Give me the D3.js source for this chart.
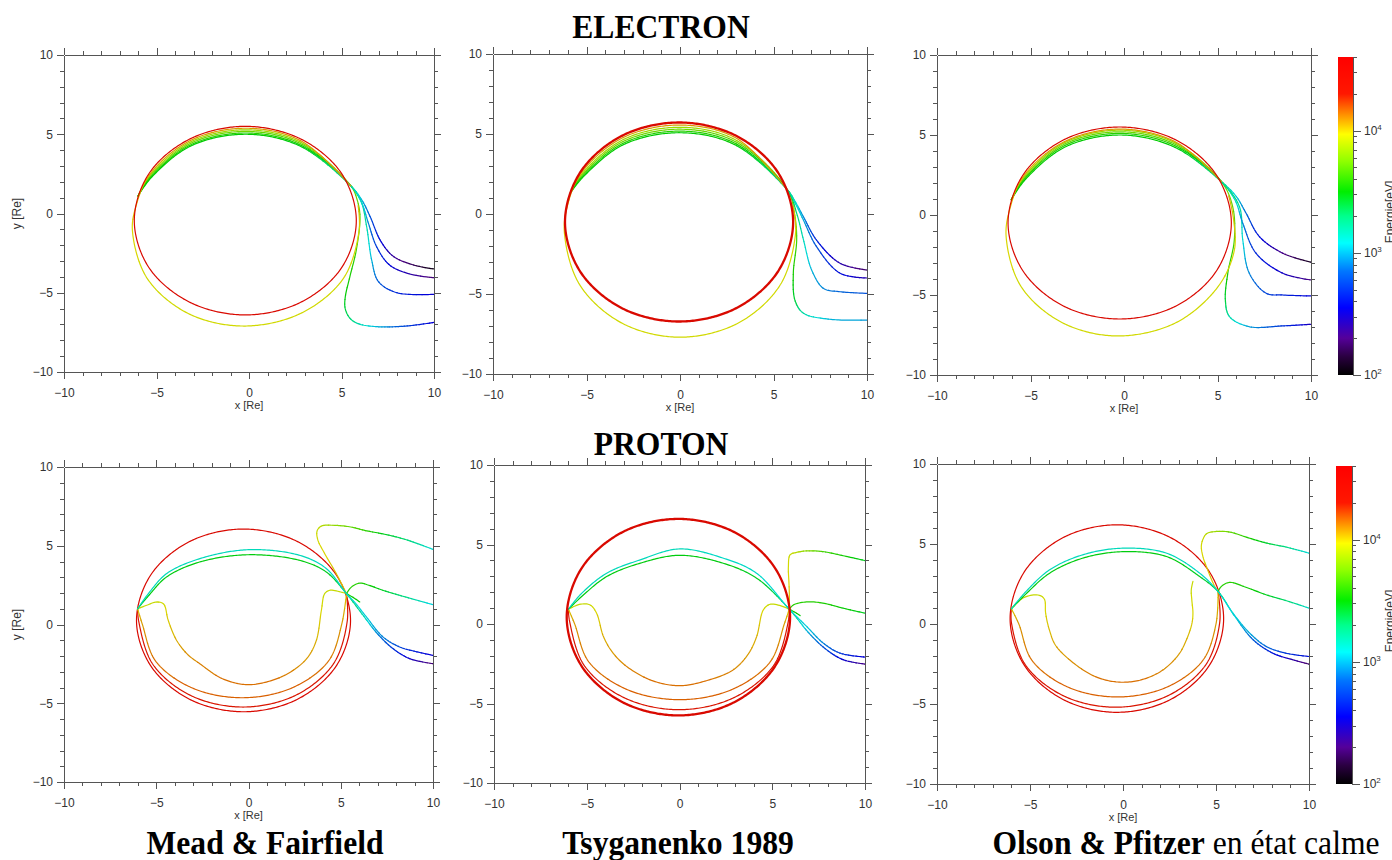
<!DOCTYPE html>
<html>
<head>
<meta charset="utf-8">
<script src="https://cdn.jsdelivr.net/npm/d3@7"></script>
<style>
  body { margin: 0; background: #fff; }
  svg { display: block; }
</style>
</head>
<body>
<div id="chart"></div>
<script>
// Drift paths: each point is [x (Re), y (Re), energy (eV)]

// ---- ELECTRON, Mead & Fairfield
const mfE_ring = [[5.8,-0.45,30000],[5.0,2.53,30000],[2.8,4.7,30000],[-0.2,5.5,30000],[-3.2,4.7,30000],[-5.4,2.53,30000],[-6.2,-0.45,30000],[-5.4,-3.43,30000],[-3.2,-5.6,30000],[-0.2,-6.4,30000],[2.8,-5.6,30000],[5.0,-3.43,30000]];
const mfE_yellow = [[5.5,1.75,12000],[2.78,4.6,12000],[-0.2,5.38,12000],[-3.18,4.6,12000],[-5.36,2.47,11000],[-6.1,0.5,10000],[-6.3,-1.1,9500],[-5.5,-4.1,9000],[-3.3,-6.3,9000],[-0.3,-7.1,9000],[2.8,-6.3,9000],[5.1,-4.1,9000],[5.95,-1.1,9500],[5.9,0.5,10500]];
const mfE_t1 = [[10,-3.5,110],[8.9,-3.25,160],[7.8,-2.7,230],[7.1,-1.7,360],[6.55,-0.2,600],[6.1,0.85,1000],[5.5,1.75,1600],[2.73,4.27,3000],[-0.2,5.0,3200],[-3.13,4.27,3200],[-5.27,2.28,3200],[-6.0,1.1,3200]];
const mfE_t2 = [[10,-4.05,180],[8.7,-3.82,250],[7.6,-3.25,350],[6.9,-2.1,520],[6.45,-0.6,800],[6.1,0.64,1200],[5.5,1.75,1800],[2.74,4.34,3600],[-0.2,5.08,3800],[-3.14,4.34,3800],[-5.29,2.32,3800],[-6.0,1.1,3800]];
const mfE_t3 = [[10,-5.1,330],[8.0,-5.0,450],[7.0,-4.3,650],[6.63,-2.93,1000],[6.36,-0.83,1500],[6.05,0.8,2000],[5.5,1.75,2800],[2.75,4.43,5000],[-0.2,5.18,5200],[-3.15,4.43,5200],[-5.31,2.37,5000],[-6.0,1.1,5000]];
const mfE_t4 = [[10,-6.87,330],[8.5,-7.1,550],[6.9,-7.14,1000],[5.9,-6.95,1500],[5.45,-6.6,2000],[5.2,-6.0,2500],[5.2,-5.3,3000],[5.45,-4.0,3500],[5.8,-2.3,4000],[6.0,-0.2,4500],[5.85,0.85,5000],[5.5,1.75,5500],[2.77,4.51,6500],[-0.2,5.28,6500],[-3.17,4.51,6500],[-5.34,2.42,6500],[-6.0,1.1,6500]];

// ---- ELECTRON, Tsyganenko 1989
const tsE_ring = [[6.05,-0.5,30000],[5.23,2.61,30000],[3.0,4.89,30000],[-0.05,5.72,30000],[-3.1,4.89,30000],[-5.33,2.61,30000],[-6.15,-0.5,30000],[-5.33,-3.61,30000],[-3.1,-5.89,30000],[-0.05,-6.72,30000],[3.0,-5.89,30000],[5.23,-3.61,30000]];
const tsE_yellow = [[5.75,1.5,12000],[2.99,4.75,12000],[-0.05,5.56,12000],[-3.09,4.75,12000],[-5.3,2.53,11000],[-6.0,0.6,10000],[-6.18,-1.2,9500],[-5.35,-4.45,9000],[-3.09,-6.83,9000],[0,-7.7,9000],[3.09,-6.83,9000],[5.35,-4.45,9000],[6.18,-1.2,9500],[6.05,0.5,10500]];
const tsE_t1 = [[10,-3.5,170],[8.56,-3.08,260],[7.3,-1.63,450],[6.6,-0.17,800],[6.15,0.8,1300],[5.75,1.5,1800],[2.93,4.33,3100],[-0.05,5.08,3200],[-3.03,4.33,3200],[-5.2,2.29,3200],[-5.87,1.29,3200]];
const tsE_t2 = [[10,-4.0,260],[8.56,-3.7,380],[7.3,-2.04,600],[6.6,-0.38,950],[6.15,0.7,1400],[5.75,1.5,2000],[2.94,4.42,3700],[-0.05,5.18,3800],[-3.04,4.42,3800],[-5.23,2.34,3800],[-5.87,1.29,3800]];
const tsE_t3 = [[10,-4.96,600],[8.5,-4.85,700],[7.67,-4.65,800],[7.04,-3.5,1000],[6.6,-1.6,1400],[6.24,0.04,2000],[5.75,1.5,2800],[2.96,4.52,5100],[-0.05,5.3,5200],[-3.06,4.52,5200],[-5.25,2.4,5200],[-5.87,1.29,5200]];
const tsE_t4 = [[10,-6.63,900],[8.02,-6.58,1000],[6.6,-6.2,1500],[6.15,-5.4,2500],[6.06,-3.7,3500],[6.24,-1.6,4200],[6.12,0.04,5000],[5.75,1.5,5500],[2.97,4.63,6500],[-0.05,5.42,6500],[-3.07,4.63,6500],[-5.28,2.46,6500],[-5.87,1.29,6500]];

// ---- ELECTRON, Olson & Pfitzer
const opE_ring = [[5.74,-0.5,30000],[4.94,2.5,30000],[2.76,4.7,30000],[-0.23,5.5,30000],[-3.22,4.7,30000],[-5.4,2.5,30000],[-6.2,-0.5,30000],[-5.4,-3.5,30000],[-3.22,-5.7,30000],[-0.23,-6.5,30000],[2.76,-5.7,30000],[4.94,-3.5,30000]];
const opE_yellow = [[5.2,2.1,12000],[2.73,4.58,12000],[-0.23,5.37,12000],[-3.19,4.58,12000],[-5.36,2.44,11000],[-6.1,0.4,10000],[-6.3,-1.4,9500],[-5.5,-4.48,9000],[-3.3,-6.73,9000],[-0.35,-7.56,9000],[2.78,-6.73,9000],[5.03,-4.48,9000],[5.9,-2.2,9500],[5.85,-0.2,10000],[5.6,1.2,11000]];
const opE_t1 = [[10,-2.95,120],[8.49,-2.39,200],[7.24,-1.35,380],[6.53,0.11,700],[6.0,1.16,1100],[5.2,2.1,1800],[2.67,4.26,3100],[-0.23,5.0,3200],[-3.13,4.26,3200],[-5.25,2.25,3200],[-6.03,0.95,3200]];
const opE_t2 = [[10,-4.06,200],[8.49,-3.64,300],[7.06,-2.39,450],[6.35,-0.51,800],[5.95,0.9,1300],[5.2,2.1,2000],[2.69,4.35,3700],[-0.23,5.1,3800],[-3.15,4.35,3800],[-5.28,2.3,3800],[-6.03,0.95,3800]];
const opE_t3 = [[10,-5.06,350],[8.5,-5.0,450],[7.6,-4.89,550],[6.7,-3.64,800],[6.35,-1.55,1200],[6.17,0.53,1700],[5.2,2.1,2800],[2.7,4.44,5100],[-0.23,5.2,5200],[-3.16,4.44,5200],[-5.3,2.35,5200],[-6.03,0.95,5200]];
const opE_t4 = [[10,-6.83,280],[8.49,-6.93,500],[6.7,-6.98,900],[5.64,-6.35,1500],[5.42,-5.31,2500],[5.55,-3.64,3500],[5.9,-1.55,4200],[5.81,0.53,5000],[5.2,2.1,5500],[2.72,4.52,6500],[-0.23,5.3,6500],[-3.18,4.52,6500],[-5.33,2.4,6500],[-6.03,0.95,6500]];

// ---- PROTON, Mead & Fairfield
const mfP_ring = [[5.53,0.26,30000],[4.75,-2.64,30000],[2.63,-4.76,30000],[-0.27,-5.54,30000],[-3.17,-4.76,30000],[-5.29,-2.64,30000],[-6.07,0.26,30000],[-5.29,3.16,30000],[-3.17,5.28,30000],[-0.27,6.06,30000],[2.63,5.28,30000],[4.75,3.16,30000]];
const mfP_red = [[-6.01,1.0,20000],[-5.95,0.2,20000],[-5.19,-2.52,20000],[-3.13,-4.51,20000],[-0.3,-5.24,20000],[2.53,-4.51,20000],[4.59,-2.52,20000],[5.35,0.2,20000],[5.31,1.96,20000]];
const mfP_orange = [[-6.01,1.0,10000],[-5.75,0.0,12000],[-5.03,-2.33,14000],[-3.05,-4.03,15000],[-0.35,-4.65,15000],[2.35,-4.03,15000],[4.33,-2.33,14000],[5.05,0.0,12000],[5.31,1.96,10000]];
const mfP_inner = [[-6.01,1.0,8000],[-5.52,1.22,8500],[-4.98,1.43,8500],[-4.6,1.3,9000],[-4.35,0.26,10000],[-3.9,-1.0,11000],[-3.3,-1.9,12500],[-2.64,-2.49,13000],[-1.4,-3.45,14000],[-0.02,-3.82,14500],[1.4,-3.5,14000],[2.42,-2.91,13000],[3.2,-2.1,12000],[3.68,-1.0,11000],[3.95,0.9,9500],[4.13,1.96,8500],[4.4,2.17,8500],[4.76,2.13,8500],[5.31,1.96,8500]];
const mfP_hook1 = [[10,4.77,1200],[8.5,5.4,2000],[7.3,5.75,2800],[6.39,5.95,3800],[5.5,6.2,5000],[4.58,6.3,6500],[3.95,6.25,7500],[3.72,5.95,8500],[3.75,5.4,9000],[4.13,4.5,9500],[4.76,3.23,10000],[5.31,1.96,10500]];
const mfP_hook2 = [[10,1.26,1100],[8.5,1.75,1800],[7.29,2.17,2700],[6.5,2.5,3300],[6.03,2.63,3600],[5.58,2.38,3800],[5.31,1.96,3800]];
const mfP_stub = [[5.31,1.96,3500],[5.7,1.7,3300],[6.03,1.43,3200]];
const mfP_tail1 = [[10,-1.96,330],[9.0,-1.7,420],[8.2,-1.43,550],[7.29,-0.79,800],[6.39,0.48,1100],[5.8,1.35,1200],[5.31,1.96,1300],[4.22,3.55,1350],[2.78,4.39,1400],[0,4.75,1400],[-2.64,4.18,1400],[-4.44,3.23,1400],[-5.4,2.0,1400],[-6.01,1.0,1400]];
const mfP_tail2 = [[10,-2.49,180],[8.74,-2.17,300],[7.83,-1.53,500],[7.0,-0.6,800],[6.2,0.6,1500],[5.31,1.96,2300],[4.22,3.33,2800],[2.78,4.07,3000],[0,4.43,3000],[-2.64,3.97,3000],[-4.44,3.02,3000],[-5.4,1.85,3000],[-6.01,1.0,3000]];

// ---- PROTON, Tsyganenko 1989
const tsP_ring = [[5.96,0.43,30000],[5.15,3.52,30000],[2.95,5.78,30000],[-0.06,6.61,30000],[-3.07,5.78,30000],[-5.27,3.52,30000],[-6.08,0.43,30000],[-5.27,-2.66,30000],[-3.07,-4.92,30000],[-0.06,-5.75,30000],[2.95,-4.92,30000],[5.15,-2.66,30000]];
const tsP_red = [[-5.99,0.93,20000],[-5.93,0.2,20000],[-5.14,-2.6,20000],[-2.98,-4.64,20000],[-0.03,-5.39,20000],[2.92,-4.64,20000],[5.08,-2.6,20000],[5.87,0.2,20000],[5.92,0.93,20000]];
const tsP_orange = [[-5.99,0.93,10000],[-5.65,0.0,12000],[-4.89,-2.38,14000],[-2.83,-4.12,15000],[0,-4.76,15000],[2.83,-4.12,15000],[4.89,-2.38,14000],[5.65,0.0,12000],[5.92,0.93,10000]];
const tsP_inner = [[-5.99,0.93,8000],[-5.36,1.24,8500],[-4.82,1.2,8500],[-4.47,0.68,9500],[-4.1,-0.79,11000],[-3.6,-1.8,12000],[-2.85,-2.67,13000],[-1.5,-3.55,14000],[0,-3.88,14500],[1.5,-3.55,14000],[2.9,-2.88,13000],[3.7,-1.9,12000],[4.16,-0.79,11000],[4.52,0.89,9500],[4.88,1.24,8500],[5.42,1.16,8500],[5.92,0.93,8500]];
const tsP_hook1 = [[10,3.99,2800],[8.8,4.3,3400],[7.75,4.55,4200],[6.86,4.6,6000],[6.3,4.5,7500],[5.96,4.35,8500],[5.87,3.61,9000],[5.9,2.6,9500],[5.92,1.94,10000],[5.92,0.93,10000]];
const tsP_hook2 = [[10,0.68,2800],[8.8,1.0,3200],[7.75,1.31,3600],[6.86,1.39,3800],[6.14,1.2,3800],[5.92,0.93,3800]];
const tsP_stub = [[5.92,0.93,3500],[6.2,0.75,3300],[6.5,0.53,3200]];
const tsP_tail1 = [[10,-2.08,330],[8.65,-1.83,500],[7.75,-1.2,800],[6.86,-0.16,1100],[5.92,0.93,1250],[4.16,3.19,1300],[2.36,4.14,1350],[0,4.72,1400],[-2.13,4.03,1400],[-3.93,3.19,1400],[-5.3,1.9,1400],[-5.99,0.93,1400]];
const tsP_tail2 = [[10,-2.52,200],[8.83,-2.25,320],[7.93,-1.62,550],[7.0,-0.6,900],[5.92,0.93,2000],[4.16,2.88,2800],[2.36,3.82,3000],[0,4.32,3000],[-2.13,3.82,3000],[-3.93,2.98,3000],[-5.3,1.7,3000],[-5.99,0.93,3000]];

// ---- PROTON, Olson & Pfitzer
const opP_ring = [[5.41,0.34,30000],[4.64,3.27,30000],[2.54,5.41,30000],[-0.33,6.2,30000],[-3.2,5.41,30000],[-5.3,3.27,30000],[-6.07,0.34,30000],[-5.3,-2.59,30000],[-3.2,-4.73,30000],[-0.33,-5.52,30000],[2.54,-4.73,30000],[4.64,-2.59,30000]];
const opP_red = [[-6.0,0.95,20000],[-6.0,0.1,20000],[-5.25,-2.55,20000],[-3.2,-4.49,20000],[-0.4,-5.2,20000],[2.4,-4.49,20000],[4.45,-2.55,20000],[5.2,0.1,20000],[5.11,2.03,20000]];
const opP_orange = [[-6.0,0.95,10000],[-5.6,0.0,12000],[-4.89,-2.28,14000],[-2.95,-3.95,15000],[-0.3,-4.56,15000],[2.35,-3.95,15000],[4.29,-2.28,14000],[5.0,0.0,12000],[5.11,2.03,10000]];
const opP_inner = [[-6.0,0.95,8000],[-5.38,1.62,8500],[-4.75,1.82,8500],[-4.4,1.75,8500],[-4.21,1.51,9000],[-4.16,0.68,9500],[-3.95,-0.4,10500],[-3.58,-1.41,11500],[-2.15,-2.87,13000],[-1.1,-3.45,14000],[0,-3.64,14500],[1.1,-3.45,14000],[2.15,-2.87,13000],[3.0,-1.9,12000],[3.41,-0.99,11000],[3.7,0.0,10000],[3.76,0.68,9500],[3.7,1.5,9000],[3.67,2.14,8500],[3.76,2.66,8500]];
const opP_hook1 = [[10,4.43,1200],[8.8,4.8,1800],[7.71,5.06,2600],[6.7,5.4,3600],[5.73,5.75,5000],[5.0,5.78,6500],[4.5,5.65,7500],[4.3,5.3,8500],[4.21,4.85,9000],[4.3,4.2,9500],[4.48,3.6,9800],[4.93,2.35,10000],[5.11,2.03,10000]];
const opP_hook2 = [[10,0.99,1300],[8.8,1.45,2000],[7.71,1.82,2800],[6.6,2.3,3400],[5.73,2.6,3700],[5.29,2.35,3800],[5.11,2.03,3800]];
const opP_tail1 = [[10,-2.03,380],[8.78,-1.83,500],[7.71,-1.41,700],[6.81,-0.57,950],[5.91,0.68,1150],[5.11,2.03,1300],[4.12,3.18,1350],[2.33,4.43,1400],[0,4.74,1400],[-2.15,4.33,1400],[-3.94,3.39,1400],[-5.2,2.05,1400],[-6.0,0.95,1400]];
const opP_tail2 = [[10,-2.51,170],[9.14,-2.24,250],[8.06,-1.83,400],[7.0,-0.99,650],[6.0,0.5,1200],[5.11,2.03,2300],[4.12,2.97,2800],[2.33,4.22,3000],[0,4.52,3000],[-2.15,4.12,3000],[-3.94,3.18,3000],[-5.2,1.9,3000],[-6.0,0.95,3000]];

// which paths are closed loops, which are drawn heavier
const closedPaths = new Set([mfE_ring, tsE_ring, opE_ring, mfP_ring, tsP_ring, opP_ring]);
const heavyPaths = new Set([tsE_ring, tsP_ring]);

// axis values
const majorTicks = [-10, -5, 0, 5, 10];
const minorTicks = [-9, -8, -7, -6, -4, -3, -2, -1, 1, 2, 3, 4, 6, 7, 8, 9];

// energy colour bar (eV, log)
const energyRange = [100, 40000];
const energyStops = [100, 141, 200, 355, 710, 1200, 2000, 3160, 5620, 9330, 13500, 20000, 40000];
const energyColors = ["#000000", "#2a0040", "#55009a", "#0000ff", "#0078ff", "#00ffff", "#00ff8c", "#00ee00", "#90ff00", "#ffff00", "#ff9000", "#ff1800", "#ff0000"];
const energyLabels = [100, 1000, 10000];
const energyMinor = [200, 300, 400, 500, 600, 700, 800, 900, 2000, 3000, 4000, 5000, 6000, 7000, 8000, 9000, 20000, 30000, 40000];

const rowTitles = ["ELECTRON", "PROTON"];
const modelNames = [["Mead & Fairfield", ""], ["Tsyganenko 1989", ""], ["Olson & Pfitzer", " en état calme"]];

// ---------------------------------------------------------------
const panels = [
  {box: [64, 55, 370, 317],  paths: [mfE_t4, mfE_t3, mfE_t2, mfE_t1, mfE_yellow, mfE_ring], yTitle: true,  xTitle: true},
  {box: [493, 54, 374, 320], paths: [tsE_t4, tsE_t3, tsE_t2, tsE_t1, tsE_yellow, tsE_ring], yTitle: false, xTitle: true},
  {box: [937, 55, 374, 320], paths: [opE_t4, opE_t3, opE_t2, opE_t1, opE_yellow, opE_ring], yTitle: false, xTitle: true},
  {box: [64, 467, 369, 315], paths: [mfP_ring, mfP_red, mfP_orange, mfP_inner, mfP_hook1, mfP_hook2, mfP_stub, mfP_tail2, mfP_tail1], yTitle: true,  xTitle: true},
  {box: [494, 465, 371, 318], paths: [tsP_red, tsP_orange, tsP_inner, tsP_hook1, tsP_hook2, tsP_stub, tsP_tail2, tsP_tail1, tsP_ring], yTitle: false, xTitle: false},
  {box: [937, 464, 372, 320], paths: [opP_ring, opP_red, opP_orange, opP_inner, opP_hook1, opP_hook2, opP_tail2, opP_tail1], yTitle: false, xTitle: true}
];
const colorBars = [[1338, 57, 15, 318], [1336, 466, 16, 318]];

const width = 1392, height = 860;
const axisColor = "#555";
const labelColor = "#333";

const svg = d3.select("#chart").append("svg")
  .attr("width", width)
  .attr("height", height)
  .style("font-family", "'Liberation Sans', Arial, sans-serif");

const energyColor = d3.scaleLog().domain(energyStops).range(energyColors)
  .interpolate(d3.interpolateRgb).clamp(true);

// draw a smooth path whose colour follows the energy along it
function drawPath(g, pts, closed, x, y, w) {
  const P = pts.map(d => [x(d[0]), y(d[1]), Math.log10(d[2])]);
  const curve = closed ? d3.curveCatmullRomClosed.alpha(0.5) : d3.curveCatmullRom.alpha(0.5);
  const ghost = g.append("path")
    .attr("d", d3.line().curve(curve)(P.map(p => [p[0], p[1]])))
    .attr("fill", "none");
  const node = ghost.node();
  const total = node.getTotalLength();
  const V = closed ? P.concat([P[0]]) : P;
  const cum = [0];
  for (let i = 1; i < V.length; i++) cum.push(cum[i - 1] + Math.hypot(V[i][0] - V[i - 1][0], V[i][1] - V[i - 1][1]));
  const chord = cum[cum.length - 1];
  const n = Math.max(2, Math.ceil(total / 1.5));
  const runs = [];
  let cur = null, j = 0;
  for (let k = 0; k <= n; k++) {
    const p = node.getPointAtLength(total * k / n);
    const c = chord * k / n;
    while (j < cum.length - 2 && cum[j + 1] < c) j++;
    const t = Math.max(0, Math.min(1, (c - cum[j]) / ((cum[j + 1] - cum[j]) || 1)));
    const le = V[j][2] + (V[j + 1][2] - V[j][2]) * t;
    const col = d3.color(energyColor(Math.pow(10, Math.round(le * 40) / 40))).darker(0.45).formatHex();
    if (!cur || cur.col !== col) {
      const prev = cur ? cur.pts[cur.pts.length - 1] : null;
      cur = {col, pts: prev ? [prev] : []};
      runs.push(cur);
    }
    cur.pts.push([p.x, p.y]);
  }
  ghost.remove();
  g.append("g").selectAll("path").data(runs).join("path")
    .attr("d", r => d3.line()(r.pts))
    .attr("fill", "none")
    .attr("stroke", r => r.col)
    .attr("stroke-width", w)
    .attr("stroke-linecap", "round")
    .attr("stroke-linejoin", "round");
}

function styleAxis(sel) {
  sel.attr("font-size", null).attr("font-family", null);
  sel.selectAll("path.domain, line").attr("stroke", axisColor).attr("shape-rendering", "crispEdges");
  sel.selectAll("text").attr("fill", labelColor).style("font-size", "12px");
}

function frame(g, x, y, left, top, w, h) {
  const fmt = d3.format("d");
  const sides = [
    [d3.axisBottom, x, `translate(0,${top + h})`, true, 9],
    [d3.axisTop, x, `translate(0,${top})`, false, 3],
    [d3.axisLeft, y, `translate(${left},0)`, true, 4],
    [d3.axisRight, y, `translate(${left + w},0)`, false, 3]
  ];
  sides.forEach(([make, scale, tr, labels, pad]) => {
    g.append("g").attr("transform", tr)
      .call(make(scale).tickValues(minorTicks).tickSize(4).tickSizeOuter(0).tickFormat(""))
      .call(s => s.select(".domain").remove())
      .call(styleAxis);
    g.append("g").attr("transform", tr)
      .call(make(scale).tickValues(majorTicks).tickSize(7).tickSizeOuter(0).tickPadding(pad)
        .tickFormat(labels ? fmt : ""))
      .call(styleAxis);
  });
}

panels.forEach((p, i) => {
  const [left, top, w, h] = p.box;
  const x = d3.scaleLinear().domain([-10, 10]).range([left, left + w]);
  const y = d3.scaleLinear().domain([-10, 10]).range([top + h, top]);
  const g = svg.append("g");
  svg.append("clipPath").attr("id", "clip" + i)
    .append("rect").attr("x", left).attr("y", top).attr("width", w).attr("height", h);
  const plot = g.append("g").attr("clip-path", `url(#clip${i})`);
  p.paths.forEach(pts => drawPath(plot, pts, closedPaths.has(pts), x, y, heavyPaths.has(pts) ? 2.3 : 1.2));
  frame(g, x, y, left, top, w, h);
  if (p.xTitle) {
    g.append("text").attr("x", left + w / 2).attr("y", top + h + 34)
      .attr("text-anchor", "middle").attr("dominant-baseline", "middle")
      .attr("fill", labelColor).style("font-size", "11px").text("x [Re]");
  }
  if (p.yTitle) {
    g.append("text").attr("transform", `translate(18,${top + h / 2}) rotate(-90)`)
      .attr("text-anchor", "middle").attr("dominant-baseline", "middle")
      .attr("fill", labelColor).style("font-size", "12px").text("y [Re]");
  }
});

// colour bars
const defs = svg.append("defs");
const grad = defs.append("linearGradient").attr("id", "energyGrad")
  .attr("x1", 0).attr("y1", 1).attr("x2", 0).attr("y2", 0);
const lg = d3.scaleLog().domain(energyRange).range([0, 1]);
grad.selectAll("stop").data(energyStops).join("stop")
  .attr("offset", d => lg(d))
  .attr("stop-color", d => energyColor(d));

colorBars.forEach(([cx, cy, cw, ch]) => {
  const s = d3.scaleLog().domain(energyRange).range([cy + ch, cy]);
  const g = svg.append("g");
  g.append("rect").attr("x", cx).attr("y", cy).attr("width", cw).attr("height", ch)
    .attr("fill", "url(#energyGrad)");
  g.append("g").attr("transform", `translate(${cx + cw},0)`)
    .call(d3.axisRight(s).tickValues(energyMinor).tickSize(4).tickSizeOuter(0).tickFormat(""))
    .call(styleAxis);
  g.append("g").attr("transform", `translate(${cx + cw},0)`)
    .call(d3.axisRight(s).tickValues(energyLabels).tickSize(8).tickSizeOuter(0).tickFormat(""))
    .call(styleAxis);
  const lab = g.append("g").selectAll("text").data(energyLabels).join("text")
    .attr("x", cx + cw + 11).attr("y", d => s(d) + 4)
    .attr("fill", labelColor).style("font-size", "12px");
  lab.append("tspan").text("10");
  lab.append("tspan").attr("dy", -5).style("font-size", "8px").text(d => Math.round(Math.log10(d)));
  g.append("text").attr("transform", `translate(1394,${cy + ch / 2 - 4}) rotate(-90)`)
    .attr("text-anchor", "middle").attr("fill", labelColor).style("font-size", "12px")
    .text("Energie[eV]");
});

// titles and model names
const serif = "'Liberation Serif', 'Times New Roman', serif";
[[661, 38], [661, 455]].forEach(([tx, ty], i) => {
  svg.append("text").attr("transform", `translate(${tx},${ty}) scale(0.93,1)`)
    .attr("text-anchor", "middle").style("font-family", serif)
    .style("font-size", "34px").style("font-weight", "bold").text(rowTitles[i]);
});
[265, 678, 1186].forEach((tx, i) => {
  const t = svg.append("text").attr("transform", `translate(${tx},854) scale(0.93,1)`)
    .attr("text-anchor", "middle").style("font-family", serif).style("font-size", "34px");
  t.append("tspan").style("font-weight", "bold").text(modelNames[i][0]);
  if (modelNames[i][1]) t.append("tspan").text(modelNames[i][1]);
});
</script>
</body>
</html>
